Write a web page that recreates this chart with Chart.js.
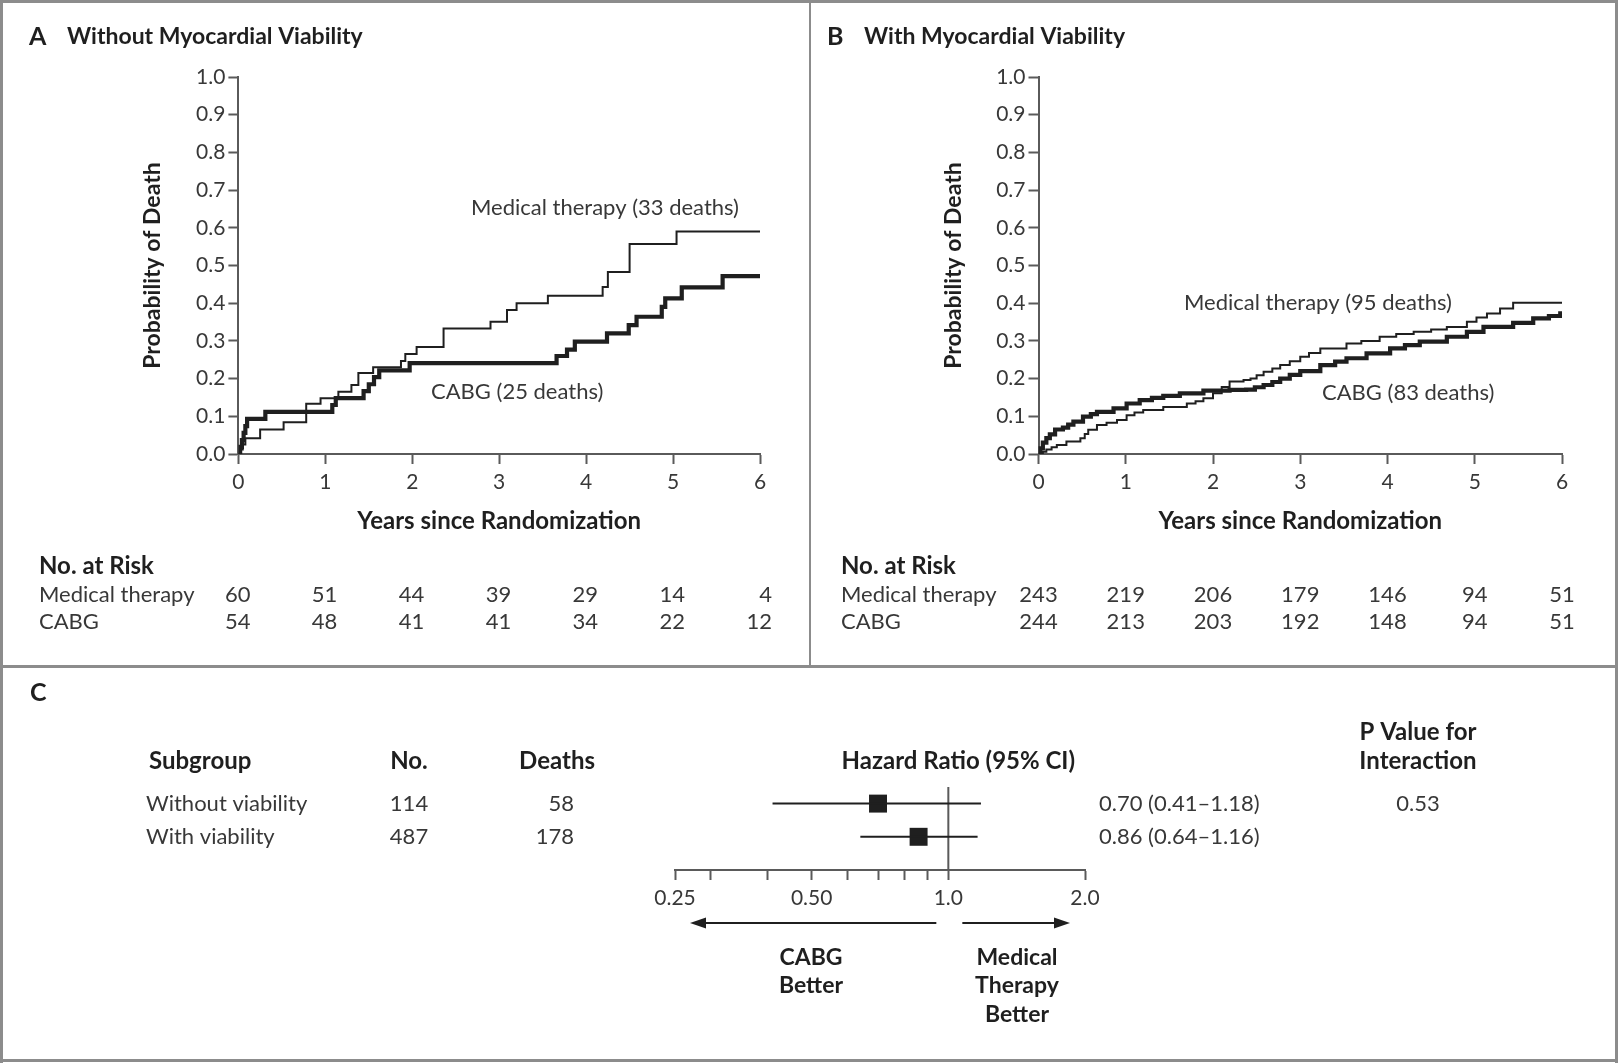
<!DOCTYPE html>
<html>
<head>
<meta charset="utf-8">
<script src="https://cdn.jsdelivr.net/npm/chart.js@4.4.1/dist/chart.umd.min.js"></script>
<style>
html,body{margin:0;padding:0;background:#fff;}
#wrap{position:relative;width:1622px;height:1063px;overflow:hidden;background:#fff;}
#wrap canvas{position:absolute;}
.ln{position:absolute;background:#8c8c8c;}
</style>
</head>
<body>
<div id="wrap">
  <canvas id="cA" width="810" height="667" style="left:0;top:0"></canvas>
  <canvas id="cB" width="812" height="667" style="left:810px;top:0"></canvas>
  <canvas id="cC" width="1622" height="396" style="left:0;top:667px"></canvas>
  <div class="ln" style="left:0;top:0;width:1618px;height:3px"></div>
  <div class="ln" style="left:0;top:0;width:3px;height:1063px"></div>
  <div class="ln" style="left:1615px;top:0;width:3px;height:1063px"></div>
  <div class="ln" style="left:0;top:1059px;width:1618px;height:3px"></div>
  <div class="ln" style="left:809px;top:0;width:2px;height:667px"></div>
  <div class="ln" style="left:0;top:665px;width:1618px;height:3px"></div>
</div>
<script>
// ---------------- data ----------------
const YEARS = [0, 1, 2, 3, 4, 5, 6];
const PROB_TICKS = [0, 0.1, 0.2, 0.3, 0.4, 0.5, 0.6, 0.7, 0.8, 0.9, 1.0];

// Panel A: without myocardial viability
const A_MED_T  = [0, 0.02, 0.05, 0.08, 0.25, 0.52, 0.78, 0.945, 1.15, 1.30, 1.38, 1.55, 1.87, 1.92, 2.05, 2.36, 2.90, 3.09, 3.20, 3.56, 4.19, 4.25, 4.50, 5.04, 6.0];
const A_MED_P  = [0, 0.012, 0.025, 0.042, 0.065, 0.084, 0.133, 0.148, 0.165, 0.183, 0.215, 0.230, 0.247, 0.265, 0.284, 0.333, 0.351, 0.382, 0.400, 0.420, 0.443, 0.483, 0.557, 0.590, 0.590];
const A_CABG_T = [0, 0.02, 0.04, 0.06, 0.08, 0.10, 0.31, 1.08, 1.12, 1.44, 1.50, 1.56, 1.62, 1.97, 3.66, 3.78, 3.87, 4.24, 4.49, 4.58, 4.87, 4.91, 5.10, 5.57, 6.0];
const A_CABG_P = [0, 0.019, 0.037, 0.056, 0.074, 0.093, 0.112, 0.130, 0.148, 0.167, 0.185, 0.204, 0.222, 0.241, 0.260, 0.277, 0.298, 0.320, 0.342, 0.364, 0.390, 0.413, 0.442, 0.472, 0.472];
const A_RISK_MED  = [60, 51, 44, 39, 29, 14, 4];
const A_RISK_CABG = [54, 48, 41, 41, 34, 22, 12];

// Panel B: with myocardial viability
const B_MED_T  = [0, 0.05, 0.09, 0.15, 0.21, 0.32, 0.48, 0.53, 0.57, 0.67, 0.78, 0.90, 1.01, 1.10, 1.20, 1.43, 1.70, 1.80, 1.89, 2.00, 2.10, 2.19, 2.35, 2.43, 2.50, 2.58, 2.68, 2.77, 2.88, 3.00, 3.10, 3.23, 3.53, 3.70, 3.91, 4.10, 4.30, 4.50, 4.68, 4.91, 5.02, 5.14, 5.29, 5.44, 6.0];
const B_MED_P  = [0, 0.006, 0.012, 0.018, 0.024, 0.033, 0.042, 0.053, 0.064, 0.077, 0.083, 0.090, 0.103, 0.110, 0.117, 0.125, 0.134, 0.140, 0.148, 0.161, 0.178, 0.192, 0.196, 0.200, 0.209, 0.218, 0.227, 0.236, 0.246, 0.258, 0.268, 0.280, 0.293, 0.300, 0.311, 0.318, 0.324, 0.330, 0.337, 0.351, 0.362, 0.373, 0.386, 0.401, 0.401];
const B_CABG_T = [0, 0.02, 0.05, 0.09, 0.13, 0.19, 0.28, 0.34, 0.40, 0.51, 0.60, 0.67, 0.86, 1.01, 1.16, 1.30, 1.43, 1.62, 1.89, 2.19, 2.38, 2.48, 2.58, 2.68, 2.77, 2.88, 3.00, 3.23, 3.40, 3.53, 3.76, 4.03, 4.20, 4.37, 4.68, 4.91, 5.10, 5.44, 5.67, 5.85, 5.98, 6.0];
const B_CABG_P = [0, 0.015, 0.030, 0.042, 0.052, 0.065, 0.070, 0.078, 0.086, 0.099, 0.106, 0.112, 0.121, 0.134, 0.143, 0.149, 0.154, 0.161, 0.168, 0.170, 0.171, 0.177, 0.183, 0.191, 0.200, 0.210, 0.220, 0.236, 0.245, 0.254, 0.267, 0.280, 0.289, 0.298, 0.311, 0.324, 0.337, 0.348, 0.360, 0.366, 0.373, 0.373];
const B_RISK_MED  = [243, 219, 206, 179, 146, 94, 51];
const B_RISK_CABG = [244, 213, 203, 192, 148, 94, 51];

// Panel C: forest plot
const SUBGROUPS  = ['Without viability', 'With viability'];
const SUB_N      = [114, 487];
const SUB_DEATHS = [58, 178];
const HR    = [0.70, 0.86];
const HR_LO = [0.41, 0.64];
const HR_HI = [1.18, 1.16];
const P_INTERACTION = ['0.53', ''];
const HR_TICKS = [0.25, 0.3, 0.4, 0.5, 0.6, 0.7, 0.8, 0.9, 1.0, 2.0];
const HR_MAJOR = [0.25, 0.5, 1.0, 2.0];
const HR_MAJOR_LABELS = ['0.25', '0.50', '1.0', '2.0'];

// ---------------- style ----------------
const FONT = 'Lato, "Open Sans", sans-serif';
const INK = '#1f1f1f';
const TXT = '#383838';
const AXIS = '#5a5a5a';
const REG = `22px ${FONT}`;
const HEAD = `bold 24px ${FONT}`;

const pts = (ts, ps) => ts.map((t, i) => ({x: t, y: ps[i]}));

function kmPlugin(o) {
  return {
    id: 'kmText' + o.letter,
    afterDraw(chart) {
      const ctx = chart.ctx, xs = chart.scales.x;
      ctx.save();
      ctx.textBaseline = 'middle';
      ctx.fillStyle = INK;
      ctx.textAlign = 'left';
      ctx.font = `bold 25px ${FONT}`;
      ctx.fillText(o.letter, o.letterX, o.titleY);
      ctx.font = `bold 23px ${FONT}`;
      ctx.fillText(o.title, o.titleX, o.titleY);
      ctx.fillStyle = TXT;
      ctx.font = REG;
      o.labels.forEach(l => ctx.fillText(l.text, l.x, l.y));
      // number at risk
      ctx.fillStyle = INK;
      ctx.font = HEAD;
      ctx.fillText('No. at Risk', o.riskX, o.riskHeadY);
      ctx.fillStyle = TXT;
      ctx.font = REG;
      const rows = [['Medical therapy', o.riskMed], ['CABG', o.riskCabg]];
      rows.forEach((r, j) => {
        ctx.textAlign = 'left';
        ctx.fillText(r[0], o.riskX, o.riskRowsY[j]);
        ctx.textAlign = o.riskAlign;
        r[1].forEach((v, i) => {
          ctx.fillText(String(v), xs.getPixelForValue(YEARS[i]) + o.riskOffset, o.riskRowsY[j]);
        });
      });
      ctx.restore();
    }
  };
}

function kmChart(id, o) {
  return new Chart(document.getElementById(id), {
    type: 'scatter',
    data: {
      datasets: [
        {label: 'Medical therapy', data: pts(o.medT, o.medP), showLine: true, stepped: 'before',
         borderColor: INK, borderWidth: 2, pointRadius: 0, fill: false},
        {label: 'CABG', data: pts(o.cabgT, o.cabgP), showLine: true, stepped: 'before',
         borderColor: INK, borderWidth: 4.2, pointRadius: 0, fill: false}
      ]
    },
    options: {
      responsive: false, animation: false, events: [],
      layout: {padding: {left: 0, top: 77, right: o.padRight, bottom: 0}},
      plugins: {legend: {display: false}, tooltip: {enabled: false}},
      scales: {
        x: {
          type: 'linear', min: 0, max: 6,
          afterBuildTicks: s => { s.ticks = YEARS.map(v => ({value: v})); },
          afterFit: s => { s.height = 213; },
          ticks: {font: {family: FONT, size: 21}, color: TXT, padding: 6, maxRotation: 0, autoSkip: false},
          grid: {drawOnChartArea: false, tickLength: 10, tickWidth: 2, tickColor: AXIS},
          border: {color: AXIS, width: 2},
          title: {display: true, text: 'Years since Randomization', color: INK,
                  font: {family: FONT, size: 24, weight: 'bold'}, padding: {top: 0, bottom: 131.6}}
        },
        y: {
          type: 'linear', min: 0, max: 1,
          afterBuildTicks: s => { s.ticks = PROB_TICKS.map(v => ({value: v})); },
          afterFit: s => { s.width = o.yWidth; },
          ticks: {font: {family: FONT, size: 21}, color: TXT, padding: 3, callback: v => v.toFixed(1)},
          grid: {drawOnChartArea: false, tickLength: 10, tickWidth: 2, tickColor: AXIS},
          border: {color: AXIS, width: 2},
          title: {display: true, text: 'Probability of Death', color: INK,
                  font: {family: FONT, size: 23, weight: 'bold'}, padding: {top: o.yTitlePad, bottom: 0}}
        }
      }
    },
    plugins: [kmPlugin(o)]
  });
}

kmChart('cA', {
  letter: 'A', letterX: 29, title: 'Without Myocardial Viability', titleX: 67, titleY: 37,
  medT: A_MED_T, medP: A_MED_P, cabgT: A_CABG_T, cabgP: A_CABG_P,
  padRight: 50, yWidth: 238.4, yTitlePad: 139.2,
  labels: [{text: 'Medical therapy (33 deaths)', x: 471, y: 208}, {text: 'CABG (25 deaths)', x: 431, y: 392}],
  riskX: 39, riskHeadY: 566, riskRowsY: [595, 622], riskAlign: 'right', riskOffset: 12,
  riskMed: A_RISK_MED, riskCabg: A_RISK_CABG
});

kmChart('cB', {
  letter: 'B', letterX: 17, title: 'With Myocardial Viability', titleX: 54, titleY: 37,
  medT: B_MED_T, medP: B_MED_P, cabgT: B_CABG_T, cabgP: B_CABG_P,
  padRight: 60, yWidth: 228.5, yTitlePad: 130.0,
  labels: [{text: 'Medical therapy (95 deaths)', x: 374, y: 303}, {text: 'CABG (83 deaths)', x: 512, y: 393}],
  riskX: 31, riskHeadY: 566, riskRowsY: [595, 622], riskAlign: 'center', riskOffset: 0,
  riskMed: B_RISK_MED, riskCabg: B_RISK_CABG
});

// ---------------- forest plot ----------------
const forestText = {
  id: 'forestText',
  afterDraw(chart) {
    const ctx = chart.ctx, xs = chart.scales.x, ys = chart.scales.y;
    ctx.save();
    ctx.textBaseline = 'middle';
    // panel letter
    ctx.fillStyle = INK;
    ctx.textAlign = 'left';
    ctx.font = `bold 25px ${FONT}`;
    ctx.fillText('C', 30, 26);
    // headers
    ctx.font = HEAD;
    ctx.fillText('Subgroup', 149, 94);
    ctx.textAlign = 'center';
    ctx.fillText('No.', 409, 94);
    ctx.fillText('Deaths', 557, 94);
    ctx.fillText('Hazard Ratio (95% CI)', xs.getPixelForValue(1.0) + 10, 94);
    ctx.fillText('P Value for', 1418, 65);
    ctx.fillText('Interaction', 1418, 94);
    // rows
    ctx.fillStyle = TXT;
    ctx.font = REG;
    SUBGROUPS.forEach((s, i) => {
      const y = ys.getPixelForValue(i + 1);
      ctx.textAlign = 'left';
      ctx.fillText(s, 146, y);
      ctx.textAlign = 'center';
      ctx.fillText(String(SUB_N[i]), 409, y);
      ctx.textAlign = 'right';
      ctx.fillText(String(SUB_DEATHS[i]), 574, y);
      ctx.textAlign = 'left';
      ctx.fillText(`${HR[i].toFixed(2)} (${HR_LO[i].toFixed(2)}\u2013${HR_HI[i].toFixed(2)})`, 1099, y);
      ctx.textAlign = 'center';
      if (P_INTERACTION[i]) ctx.fillText(P_INTERACTION[i], 1418, y);
    });
    // arrows
    const ay = 256, x1 = xs.getPixelForValue(1.0);
    const xl = xs.getPixelForValue(HR_MAJOR[0]), xr = xs.getPixelForValue(HR_MAJOR[HR_MAJOR.length - 1]);
    ctx.strokeStyle = INK; ctx.fillStyle = INK; ctx.lineWidth = 2;
    const arrow = (from, to) => {
      const dir = Math.sign(to - from);
      ctx.beginPath(); ctx.moveTo(from, ay); ctx.lineTo(to - dir * 12, ay); ctx.stroke();
      ctx.beginPath(); ctx.moveTo(to, ay); ctx.lineTo(to - dir * 16, ay - 5.5); ctx.lineTo(to - dir * 16, ay + 5.5); ctx.closePath(); ctx.fill();
    };
    arrow(x1 - 12, xl + 15);
    arrow(x1 + 14, xr - 15);
    // direction labels
    ctx.fillStyle = INK;
    ctx.font = `bold 23px ${FONT}`;
    ctx.textAlign = 'center';
    ctx.fillText('CABG', 811, 291);
    ctx.fillText('Better', 811, 319);
    ctx.fillText('Medical', 1017, 291);
    ctx.fillText('Therapy', 1017, 319);
    ctx.fillText('Better', 1017, 348);
    ctx.restore();
  }
};

new Chart(document.getElementById('cC'), {
  type: 'scatter',
  data: {
    datasets: [
      ...SUBGROUPS.map((s, i) => ({
        label: s + ' CI', data: [{x: HR_LO[i], y: i + 1}, {x: HR_HI[i], y: i + 1}],
        showLine: true, borderColor: INK, borderWidth: 2, pointRadius: 0
      })),
      {label: 'ref', data: [{x: 1.0, y: 0.5}, {x: 1.0, y: 3}], showLine: true, borderColor: AXIS, borderWidth: 2, pointRadius: 0},
      {label: 'HR', data: HR.map((h, i) => ({x: h, y: i + 1})), pointStyle: 'rect', pointRadius: 12.7,
       backgroundColor: INK, borderColor: INK, borderWidth: 0}
    ]
  },
  options: {
    responsive: false, animation: false, events: [],
    layout: {padding: {left: 675, right: 537, top: 120, bottom: 153}},
    plugins: {legend: {display: false}, tooltip: {enabled: false}},
    scales: {
      x: {
        type: 'logarithmic', min: 0.25, max: 2.0,
        afterBuildTicks: s => { s.ticks = HR_TICKS.map(v => ({value: v})); },
        afterFit: s => { s.height = 40; },
        ticks: {font: {family: FONT, size: 21}, color: TXT, padding: 6, maxRotation: 0, autoSkip: false,
                callback: v => { const i = HR_MAJOR.indexOf(v); return i >= 0 ? HR_MAJOR_LABELS[i] : ''; }},
        grid: {drawOnChartArea: false, tickLength: 10, tickWidth: 2, tickColor: AXIS},
        border: {color: AXIS, width: 2}
      },
      y: {type: 'linear', min: 0.5, max: 3, reverse: true, display: false}
    }
  },
  plugins: [forestText]
});
</script>
</body>
</html>
